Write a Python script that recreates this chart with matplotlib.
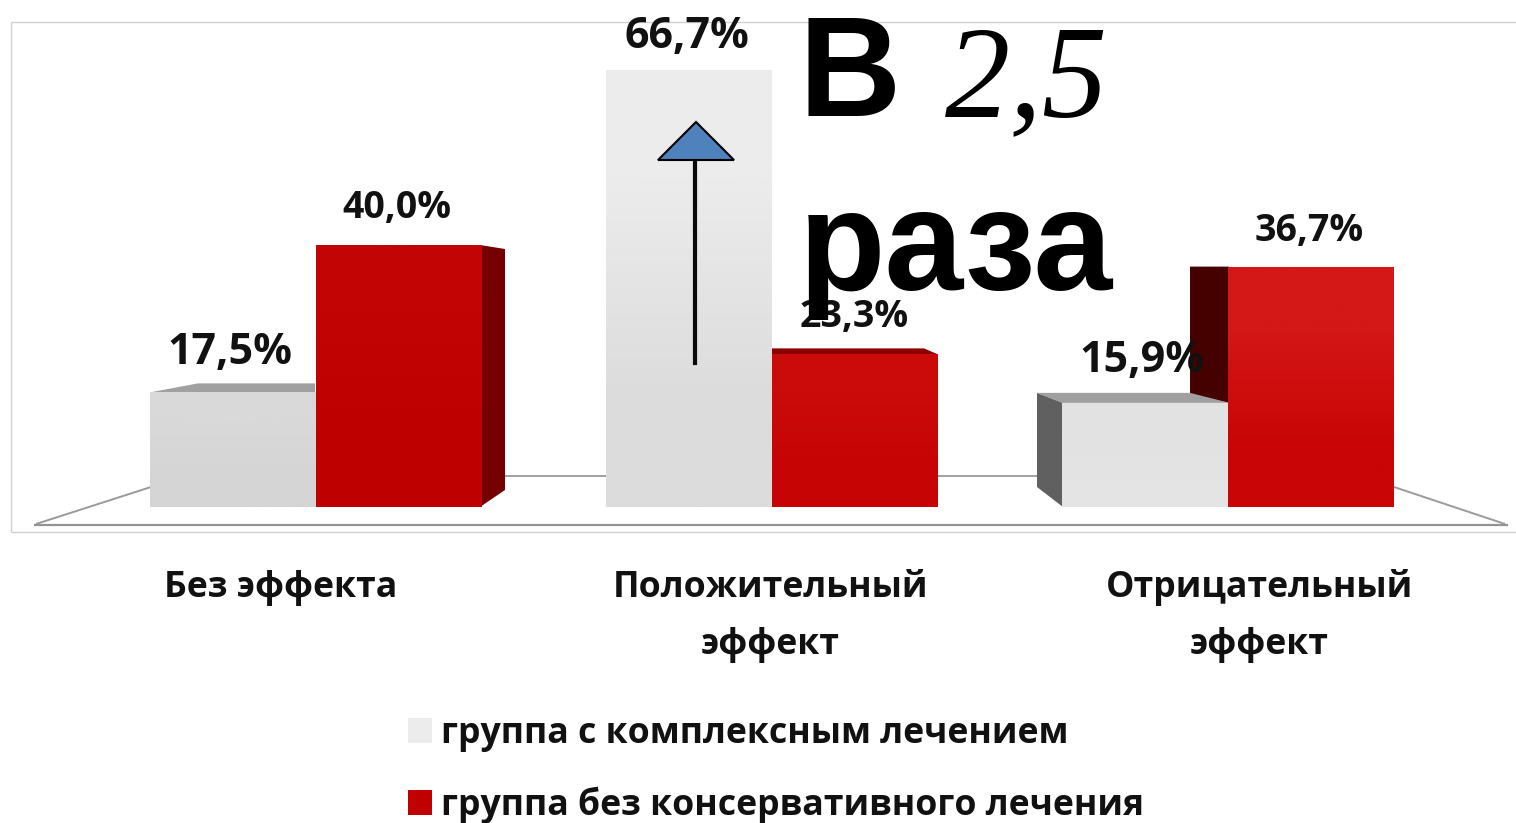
import matplotlib
matplotlib.use('Agg')
import matplotlib.pyplot as plt
import numpy as np
from matplotlib.patches import Polygon
from matplotlib.transforms import Affine2D

categories = ['Без эффекта', 'Положительный\nэффект', 'Отрицательный\nэффект']
series_names = ['группа с комплексным лечением', 'группа без консервативного лечения']
complex_values = [17.5, 66.7, 15.9]
no_conservative_values = [40.0, 23.3, 36.7]
complex_labels = ['17,5%', '66,7%', '15,9%']
no_conservative_labels = ['40,0%', '23,3%', '36,7%']

W, H = 1516, 823
GROUP_STEP = 456.0
X0 = 316.0
BASE_Y = 507.0
PX_PER_PCT = 6.55
LABEL_FONT = ['Open Sans', 'DejaVu Sans']

fig = plt.figure(figsize=(W / 100, H / 100), dpi=100)
ax = fig.add_axes([0, 0, 1, 1])
ax.set_xlim(-X0 / GROUP_STEP, (W - X0) / GROUP_STEP)
ax.set_ylim(-(H - BASE_Y) / PX_PER_PCT, BASE_Y / PX_PER_PCT)
ax.axis('off')

# pixel coordinates of the picture, y going down
px = Affine2D().scale(1, -1).translate(0, H)


def ln(xs, ys, color, lw, z=1):
    ax.plot(xs, ys, color=color, lw=lw, transform=px, zorder=z, solid_capstyle='butt')


# frame and floor
ln([11, 1516], [22, 22], '#d0d0d0', 1.0)
ln([11, 1516], [532, 532], '#d0d0d0', 1.0)
ln([11, 11], [22, 532], '#d0d0d0', 1.0)
ln([34, 1508], [525, 525], '#929292', 1.6)
ln([484, 1040], [476, 476], '#a0a0a0', 1.4)
ln([36, 151], [524, 487], '#9a9a9a', 1.4)
ln([1394, 1505], [487, 524], '#9a9a9a', 1.4)

width = 166.0 / GROUP_STEP
x = np.arange(len(categories))
bars_a = ax.bar(x - width / 2, complex_values, width, color='#ececec', zorder=3, label=series_names[0])
bars_b = ax.bar(x + width / 2, no_conservative_values, width, color='#c00000', zorder=3, label=series_names[1])

# each bar has its own soft vertical gradient
grads = [
    (bars_a[0], '#d9d9d9', '#d5d5d5'), (bars_a[1], '#ececec', '#dcdcdc'), (bars_a[2], '#e2e2e2', '#e4e4e4'),
    (bars_b[0], '#c20404', '#bf0000'), (bars_b[1], '#cb0a0a', '#c60404'), (bars_b[2], '#d41717', '#c90505'),
]
for bar, top, bottom in grads:
    c = np.array([matplotlib.colors.to_rgb(top), matplotlib.colors.to_rgb(bottom)])[:, None, :]
    im = ax.imshow(c, extent=[bar.get_x(), bar.get_x() + bar.get_width(), 0, bar.get_height()],
                   aspect='auto', interpolation='bilinear', zorder=3.1)
    im.set_clip_path(bar)
ax.set_xlim(-X0 / GROUP_STEP, (W - X0) / GROUP_STEP)
ax.set_ylim(-(H - BASE_Y) / PX_PER_PCT, BASE_Y / PX_PER_PCT)


def top_y(value):
    return BASE_Y - value * PX_PER_PCT


def left_x(i, second):
    return X0 + GROUP_STEP * i + (0 if second else -166)


def side(points, color, z=2.5):
    ax.add_patch(Polygon(points, closed=True, facecolor=color, edgecolor='none', transform=px, zorder=z))


# fake 3d faces, all hung on the bar tops
t = top_y(complex_values[0])
lx = left_x(0, False)
side([(lx, t), (lx + 48, t - 9), (lx + 165, t - 9), (lx + 165, t)], '#a0a0a0')

t = top_y(no_conservative_values[0])
rx = left_x(0, True) + 166
side([(rx - 2, t), (rx + 23, t + 4), (rx + 23, 490), (rx - 2, BASE_Y)], '#760000')

t = top_y(no_conservative_values[1])
lx = left_x(1, True)
side([(lx, t), (lx, t - 6), (lx + 152, t - 6), (lx + 166, t)], '#8c0000')

t = top_y(complex_values[2])
lx = left_x(2, False)
side([(lx + 1, t), (lx - 25, t - 10), (lx - 25, 487), (lx + 1, BASE_Y)], '#606060')
side([(lx - 25, t - 10), (lx, t), (lx + 166, t), (lx + 130, t - 10)], '#a0a0a0')

t = top_y(no_conservative_values[2])
lx = left_x(2, True)
side([(lx - 38, t), (lx + 1, t), (lx + 1, top_y(complex_values[2])), (lx - 38, top_y(complex_values[2]) - 10)], '#450000')

# value labels, offsets in pixels from the top of the bar
off_a = [(-3, 40), (-2, 34), (-3, 42)]
off_b = [(-2, 37), (-1, 37), (-2, 36)]
for i in range(3):
    for vals, labs, off, dx, size in ((complex_values, complex_labels, off_a, -width / 2, 31),
                                      (no_conservative_values, no_conservative_labels, off_b, width / 2, 27)):
        ax.annotate(labs[i], (x[i] + dx, vals[i]), xytext=(off[i][0] * 0.72, off[i][1] * 0.72),
                    textcoords='offset points', ha='center', va='center', fontsize=size,
                    fontweight='bold', family=LABEL_FONT, color='#111111', zorder=5)

# category labels
for name, cx in zip(categories, [281, 770, 1259]):
    for j, line in enumerate(name.split('\n')):
        ax.text(cx, 588 + 57 * j, line, transform=px, ha='center', va='center', fontsize=25.7,
                fontweight='bold', family=LABEL_FONT, color='#111111')

# arrow
ax.plot([695, 695], [363, 159], color='#0a0a0a', lw=3.0, transform=px, zorder=6)
ax.add_patch(Polygon([(696, 122), (658, 160), (734, 160)], closed=True, facecolor='#4f81bd',
                     edgecolor='black', lw=1.5, transform=px, zorder=7))

# overlay text
ax.text(798, 116, 'В', transform=px, fontsize=102, fontweight='bold', family='Liberation Sans',
        color='black', va='baseline', zorder=8)
ax.text(945, 116, '2,5', transform=px, fontsize=94, style='italic', family='Liberation Serif',
        color='black', va='baseline', zorder=8)
ax.text(799, 290, 'раза', transform=px, fontsize=102, fontweight='bold', family='Liberation Sans',
        color='black', va='baseline', zorder=8)

leg = ax.legend(handles=[bars_a, bars_b], loc='upper left', bbox_to_anchor=(376 / W, 1 - 684 / H),
                frameon=False, handlelength=0.67, handleheight=0.67, handletextpad=0.26,
                labelspacing=0.97, prop={'family': LABEL_FONT, 'weight': 'bold', 'size': 25.7})
for t in leg.get_texts():
    t.set_color('#111111')
leg.set_zorder(9)

fig.savefig('out.png', dpi=100)
